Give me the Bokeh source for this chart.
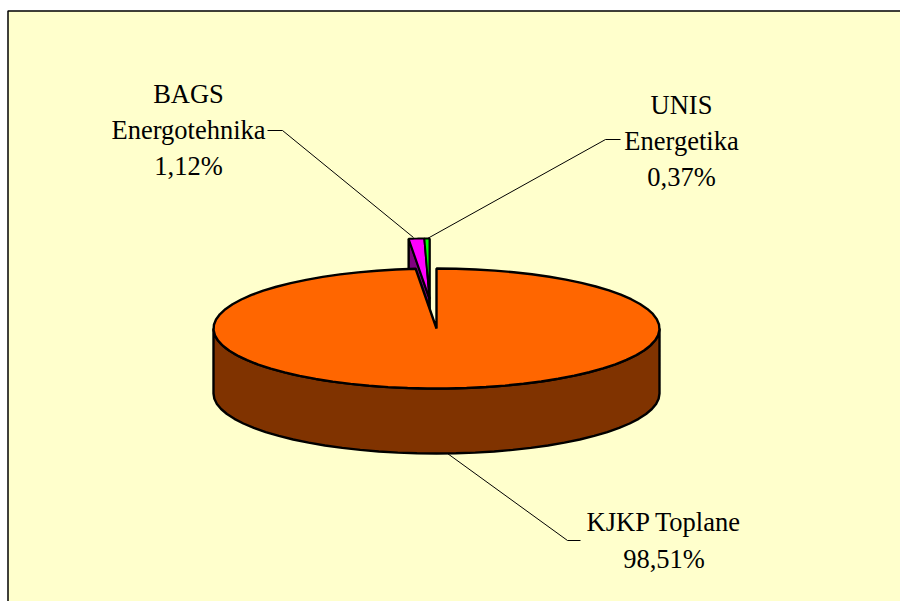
import numpy as np
from bokeh.embed import file_html
from bokeh.resources import INLINE
from bokeh.plotting import figure
from bokeh.models import Range1d
from bokeh.core.properties import value

# Data
categories = ["KJKP Toplane", "BAGS Energotehnika", "UNIS Energetika"]
shares = [98.51, 1.12, 0.37]
label_lines = [["KJKP Toplane", "98,51%"], ["BAGS", "Energotehnika", "1,12%"], ["UNIS", "Energetika", "0,37%"]]
top_colors = ["#FF6600", "#FF00FF", "#00FF00"]
side_colors = ["#803300", "#800080", "#008000"]
label_x = [663.5, 188, 681]
label_y = [[521.5, 558.5], [93.5, 129.5, 165.5], [104.5, 140.5, 176.5]]
leaders_x = [[580, 567, 447], [267, 282, 413], [620, 605, 427]]
leaders_y = [[540, 540, 453], [130, 130, 237], [139, 139, 238]]

# Pie geometry
cx, cy, rx, ry, depth = 436, 328, 223, 60, 65
explode_dx, explode_dy = -7, -30
bg = "#FFFFCC"
edge = 2.4

p = figure(width=900, height=601, x_range=Range1d(0, 900), y_range=Range1d(601, 0),
           output_backend="svg", toolbar_location=None, min_border=0,
           background_fill_color="white", border_fill_color="white")
p.axis.visible = False
p.grid.visible = False
p.outline_line_color = None

p.quad(left=7.5, right=900, top=10.5, bottom=601, fill_color=bg, line_color=None)
p.line([7.5, 7.5, 900], [601, 10.5, 10.5], line_color="#000000", line_width=1.5)

fr = np.cumsum([0] + shares) / sum(shares)


def rim(a0, a1, step=5.0):
    n = max(2, int(abs(a1 - a0) / step) + 1)
    a = np.radians(np.linspace(a0, a1, n))
    return rx * np.sin(a), -ry * np.cos(a)


# exploded slices: cut wall, then tops (drawn behind the big slice)
ox, oy = cx + explode_dx, cy + explode_dy
ang = fr * 360
xe, ye = rx * np.sin(np.radians(ang[1])), -ry * np.cos(np.radians(ang[1]))
p.patch([ox + xe, ox, ox, ox + xe], [oy + ye, oy, oy + depth, oy + ye + depth],
        fill_color=side_colors[1], line_color="black", line_width=edge)
p.line([ox, ox], [oy - ry, oy + depth], line_color="black", line_width=edge)
for i in (1, 2):
    x, y = rim(ang[i], ang[i + 1], 0.5)
    p.patch(np.r_[ox, ox + x], np.r_[oy, oy + y], fill_color=top_colors[i],
            line_color="black", line_width=edge * 0.8)

# big slice: side wall then top
x, y = rim(90, 270)
bx = np.r_[cx + x, (cx + x)[::-1]]
by = np.r_[cy + y, (cy + y + depth)[::-1]]
p.patch(bx, by, fill_color=side_colors[0], line_color="black", line_width=edge)
x, y = rim(ang[0], ang[1])
p.patch(np.r_[cx, cx + x], np.r_[cy, cy + y], fill_color=top_colors[0],
        line_color="black", line_width=edge)

for lx, ly in zip(leaders_x, leaders_y):
    p.line(lx, ly, line_color="black", line_width=1)

for lines, tx, tys in zip(label_lines, label_x, label_y):
    p.text([tx] * len(lines), tys, text=lines, text_font=value("Liberation Serif"),
           text_font_size="26.5px", text_color="black", text_align="center",
           text_baseline="alphabetic")

open("out.html", "w").write(file_html(p, INLINE))
